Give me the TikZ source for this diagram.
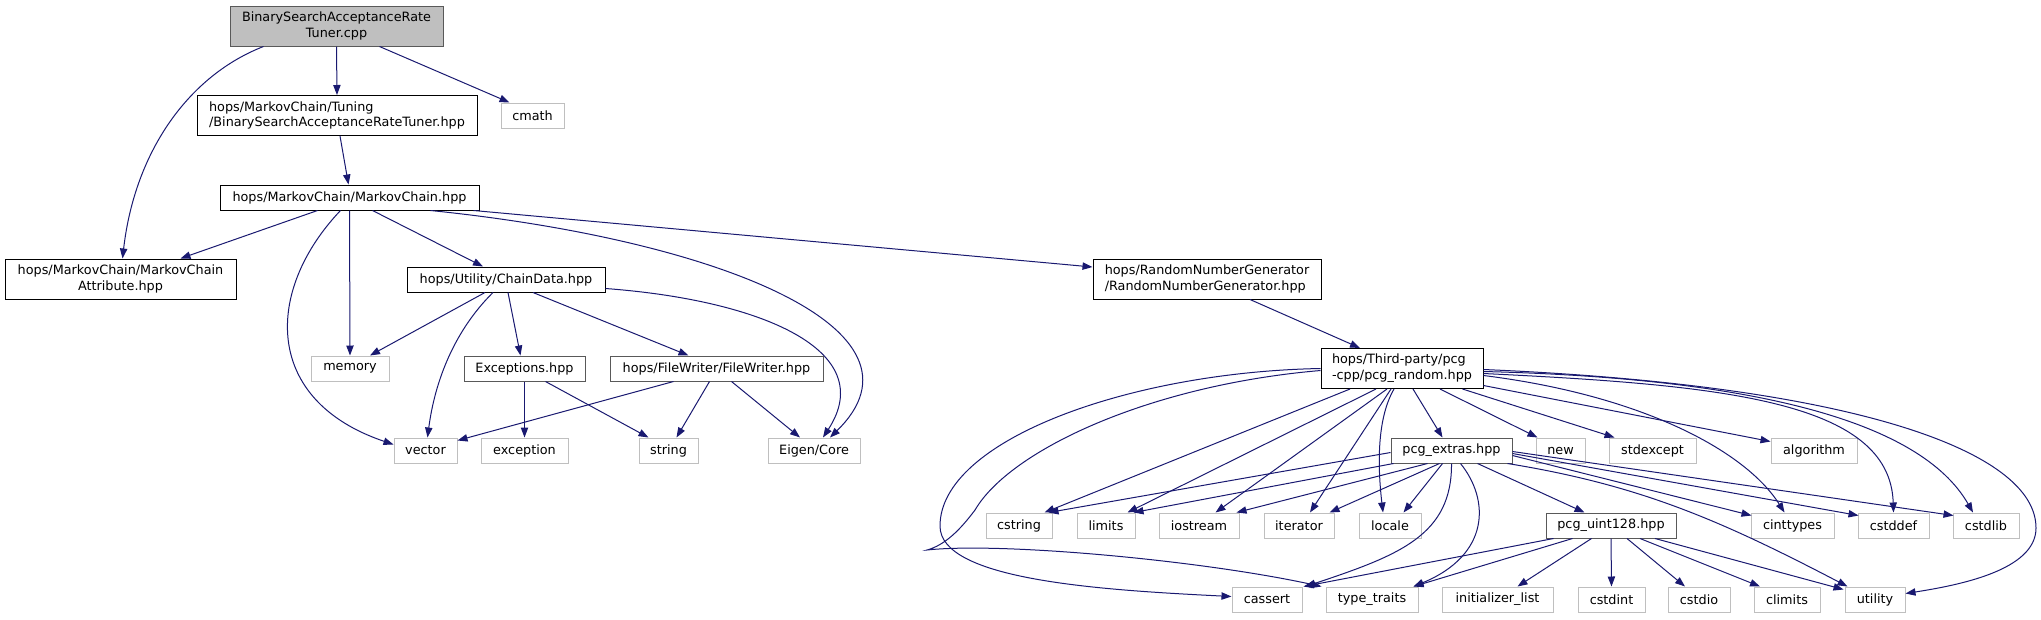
\documentclass[tikz,border=0pt]{standalone}
\usepackage{fontspec}
\setmainfont{DejaVu Sans}
\usetikzlibrary{arrows.meta,calc}
\definecolor{edgeblue}{HTML}{191970}

\begin{document}
\begin{tikzpicture}[x=0.75pt, y=-0.75pt, >={Triangle[length=7.5pt,width=5.5pt]},
    file/.style={draw, rectangle, line width=0.75pt, inner sep=2pt, minimum height=18.75pt,
        font=\fontsize{9.6}{11.8}\selectfont},
    doc/.style={file, draw=black},
    inc/.style={file, draw=black!65},
    sys/.style={file, draw=black!25},
    root/.style={inc, fill=black!25},
    tall/.style={minimum height=30pt},
    wd/.style={minimum width=#1*0.75pt},
    dep/.style={->, draw=edgeblue, line width=0.75pt}]
    \useasboundingbox (0,0) rectangle (2041,619);

    % files of the project
    \node[root, tall, wd=213, align=center] (top) at (336.5,26) {BinarySearchAcceptanceRate\\Tuner.cpp};
    \node[doc, tall, wd=280, align=left] (tuning) at (337,115.5) {hops/MarkovChain/Tuning\\/BinarySearchAcceptanceRateTuner.hpp};
    \node[sys, wd=63] (cmath) at (532.5,115.5) {cmath};
    \node[doc, wd=259] (mc) at (349.5,197.5) {hops/MarkovChain/MarkovChain.hpp};
    \node[doc, tall, wd=231, align=center] (attr) at (120.5,279) {hops/MarkovChain/MarkovChain\\Attribute.hpp};
    \node[doc, wd=198] (cd) at (506,279.5) {hops/Utility/ChainData.hpp};
    \node[doc, tall, wd=228, align=left] (rng) at (1207,279) {hops/RandomNumberGenerator\\/RandomNumberGenerator.hpp};
    \node[sys, wd=78] (memory) at (350,368.5) {memory};
    \node[inc, wd=121] (exceptions) at (524.5,368.5) {Exceptions.hpp};
    \node[inc, wd=213] (filewriter) at (716.5,368.5) {hops/FileWriter/FileWriter.hpp};
    \node[sys, wd=63] (vector) at (425.5,450.5) {vector};
    \node[sys, wd=87] (exception) at (524.5,450.5) {exception};
    \node[sys, wd=59] (string) at (668.5,450.5) {string};
    \node[sys, wd=92] (eigen) at (814,450.5) {Eigen/Core};

    % pcg headers
    \node[doc, tall, wd=162, align=left] (pr) at (1402,368.5) {hops/Third-party/pcg\\-cpp/pcg\_random.hpp};
    \node[inc, wd=121] (pe) at (1451.5,450.5) {pcg\_extras.hpp};
    \node[sys, wd=49] (new) at (1560.5,450.5) {new};
    \node[sys, wd=87] (stdexcept) at (1652.5,450.5) {stdexcept};
    \node[sys, wd=86] (algorithm) at (1814,450.5) {algorithm};
    \node[sys, wd=66] (cstring) at (1019,525.5) {cstring};
    \node[sys, wd=58] (limits) at (1106,525.5) {limits};
    \node[sys, wd=80] (iostream) at (1199,525.5) {iostream};
    \node[sys, wd=70] (iterator) at (1299,525.5) {iterator};
    \node[sys, wd=62] (locale) at (1390,525.5) {locale};
    \node[inc, wd=130] (pu) at (1611,525.5) {pcg\_uint128.hpp};
    \node[sys, wd=83] (cinttypes) at (1792.5,525.5) {cinttypes};
    \node[sys, wd=71] (cstddef) at (1893.5,525.5) {cstddef};
    \node[sys, wd=66] (cstdlib) at (1986,525.5) {cstdlib};
    \node[sys, wd=70] (cassert) at (1267,599.5) {cassert};
    \node[sys, wd=92] (typetraits) at (1372,599.5) {type\_traits};
    \node[sys, wd=111] (initlist) at (1497.5,599.5) {initializer\_list};
    \node[sys, wd=67] (cstdint) at (1611.5,599.5) {cstdint};
    \node[sys, wd=62] (cstdio) at (1699,599.5) {cstdio};
    \node[sys, wd=66] (climits) at (1787,599.5) {climits};
    \node[sys, wd=60] (utility) at (1875,599.5) {utility};

    % upper part
    \draw[dep] ($(top.south)+(-73,0)$) .. controls (190,75) and (135,150) .. ($(attr.north)+(2,0)$);
    \draw[dep] (top.south) -- (tuning.north);
    \draw[dep] ($(top.south)+(43,0)$) -- ($(cmath.north west)+(9,0)$);
    \draw[dep] ($(tuning.south)+(3,0)$) -- ($(mc.north)+(-1,0)$);
    \draw[dep] ($(mc.south)+(-32,0)$) -- ($(attr.north)+(60,0)$);
    \draw[dep] ($(mc.south)+(-9,0)$) .. controls (265,290) and (262,400) .. ($(vector.west)+(0,-6)$);
    \draw[dep] (mc.south) -- (memory.north);
    \draw[dep] ($(mc.south)+(23,0)$) -- ($(cd.north)+(-23,0)$);
    \draw[dep] ($(mc.south east)+(-49,0)$) .. controls (720,240) and (940,330) .. ($(eigen.north)+(16,0)$);
    \draw[dep] ($(mc.south east)+(-6,0)$) -- ($(rng.west)+(0,-12)$);
    \draw[dep] ($(cd.south)+(-21,0)$) -- ($(memory.north)+(20,0)$);
    \draw[dep] ($(cd.south)+(-13,0)$) .. controls (455,330) and (435,380) .. ($(vector.north)+(2,0)$);
    \draw[dep] ($(cd.south)+(2,0)$) -- ($(exceptions.north)+(-4,0)$);
    \draw[dep] ($(cd.south)+(27,0)$) -- ($(filewriter.north)+(-28,0)$);
    \draw[dep] ($(cd.south east)+(0,-4)$) .. controls (760,300) and (880,350) .. ($(eigen.north)+(9,0)$);
    \draw[dep] (exceptions.south) -- (exception.north);
    \draw[dep] ($(exceptions.south)+(21,0)$) -- ($(string.north)+(-20,0)$);
    \draw[dep] ($(filewriter.south)+(-43,0)$) -- ($(vector.north east)+(0,3)$);
    \draw[dep] ($(filewriter.south)+(-7,0)$) -- ($(string.north)+(8,0)$);
    \draw[dep] ($(filewriter.south)+(15,0)$) -- ($(eigen.north)+(-14,0)$);
    \draw[dep] ($(rng.south)+(43,0)$) -- ($(pr.north)+(-42,0)$);

    % pcg_random.hpp
    \draw[dep] ($(pr.south)+(-52,0)$) -- ($(cstring.north east)+(-8,0)$);
    \draw[dep] ($(pr.south)+(-26,0)$) -- ($(limits.north east)+(-8,0)$);
    \draw[dep] ($(pr.south)+(-15,0)$) -- ($(iostream.north east)+(-24,0)$);
    \draw[dep] ($(pr.south)+(-11,0)$) -- ($(iterator.north)+(11,0)$);
    \draw[dep] ($(pr.south)+(-8,0)$) .. controls (1376,420) and (1378,470) .. ($(locale.north)+(-7,0)$);
    \draw[dep] ($(pr.south)+(11,0)$) -- ($(pe.north)+(-9,0)$);
    \draw[dep] ($(pr.south)+(38,0)$) -- ($(new.north west)+(2,0)$);
    \draw[dep] ($(pr.south east)+(-21,0)$) -- ($(stdexcept.north west)+(6,0)$);
    \draw[dep] ($(pr.east)+(0,17)$) -- ($(algorithm.west)+(0,-9)$);
    \draw[dep] ($(pr.east)+(0,7)$) .. controls (1640,395) and (1745,450) .. ($(cinttypes.north)+(-8,0)$);
    \draw[dep] ($(pr.east)+(0,5)$) .. controls (1720,385) and (1890,400) .. (cstddef.north);
    \draw[dep] ($(pr.east)+(0,3)$) .. controls (1750,378) and (1920,420) .. ($(cstdlib.north)+(-13,0)$);
    \draw[dep] ($(pr.east)+(0,1)$) .. controls (1850,385) and (2036,450) .. (2036,528)
        .. controls (2036,570) and (1960,585) .. ($(utility.east)+(0,-6)$);
    \draw[dep] (pr.west) .. controls (1130,372) and (940,440) .. (940,526)
        .. controls (940,580) and (1100,590) .. ($(cassert.west)+(0,-3)$);
    \draw[dep] ($(pr.west)+(0,2)$) .. controls (1150,385) and (1010,450) .. (975,510)
        .. controls (960,530) and (945,545) .. (927,550)
        .. controls (1000,542) and (1200,560) .. ($(typetraits.north west)+(-4,0)$);

    % pcg_extras.hpp
    \draw[dep] ($(pe.west)+(0,2)$) -- ($(cstring.north east)+(-4,0)$);
    \draw[dep] ($(pe.south west)+(3,0)$) -- ($(limits.north east)+(-2,0)$);
    \draw[dep] ($(pe.south)+(-24,0)$) -- ($(iostream.north east)+(-3,0)$);
    \draw[dep] ($(pe.south)+(-12,0)$) -- ($(iterator.north east)+(-5,0)$);
    \draw[dep] ($(pe.south)+(-9,0)$) -- ($(locale.north east)+(-18,0)$);
    \draw[dep] (pe.south) .. controls (1452,535) and (1400,555) .. ($(cassert.north east)+(3,0)$);
    \draw[dep] ($(pe.south)+(9,0)$) .. controls (1490,500) and (1490,555) .. ($(typetraits.north east)+(-5,0)$);
    \draw[dep] ($(pe.south east)+(-35,0)$) -- ($(pu.north west)+(39,0)$);
    \draw[dep] ($(pe.east)+(0,5)$) -- ($(cinttypes.north west)+(1,3)$);
    \draw[dep] ($(pe.east)+(0,3)$) -- ($(cstddef.north west)+(1,3)$);
    \draw[dep] ($(pe.east)+(0,1)$) -- ($(cstdlib.north west)+(1,3)$);
    \draw[dep] ($(pe.south east)+(-5,0)$) .. controls (1640,485) and (1720,520) .. ($(utility.north west)+(3,0)$);

    % pcg_uint128.hpp
    \draw[dep] ($(pu.south west)+(8,0)$) -- ($(cassert.north east)+(1,0)$);
    \draw[dep] ($(pu.south west)+(27,0)$) -- ($(typetraits.north east)+(-5,0)$);
    \draw[dep] ($(pu.south west)+(46,0)$) -- ($(initlist.north)+(20,0)$);
    \draw[dep] (pu.south) -- (cstdint.north);
    \draw[dep] ($(pu.south)+(16,0)$) -- ($(cstdio.north)+(-14,0)$);
    \draw[dep] ($(pu.south)+(29,0)$) -- ($(climits.north)+(-27,0)$);
    \draw[dep] ($(pu.south)+(44,0)$) -- ($(utility.north west)+(-1,3)$);
\end{tikzpicture}
\end{document}
